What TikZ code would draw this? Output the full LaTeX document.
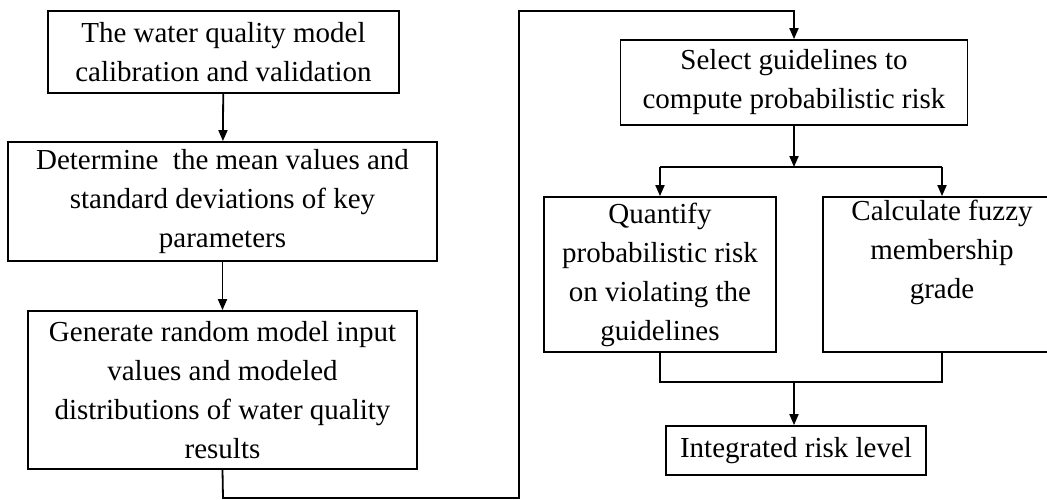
\documentclass[tikz,border=0pt]{standalone}
\usepackage{fontspec}
\setmainfont{Liberation Serif}
\usepackage{tikz}
\usetikzlibrary{arrows.meta}

\begin{document}
\begin{tikzpicture}[x=1pt,y=-1pt,line width=1.8pt,
  box/.style n args={2}{draw,rectangle,align=center,inner sep=0pt,minimum width=#1pt,minimum height=#2pt,font=\fontsize{29}{39}\selectfont},
  arr/.style={-{Triangle[length=11pt,width=9pt]}}]
\useasboundingbox (0,0) rectangle (1047,499);
% left column
\node[box={351}{82}] (calib) at (223.5,52) {The water quality model\\calibration and validation};
\node[box={429}{119}] (meanstd) at (222.5,201.5) {Determine\ \ the mean values and\\standard deviations of key\\parameters};
\node[box={389}{158}] (gener) at (222.5,390) {Generate random model input\\values and modeled\\distributions of water quality\\results};
% right column
\node[box={347}{85}] (select) at (794,82.5) {Select guidelines to\\compute probabilistic risk};
\node[box={232}{155}] (quant) at (660,274.5) {Quantify\\probabilistic risk\\on violating the\\guidelines};
\node[box={238}{155}] (fuzzy) at (942,274.5) {Calculate fuzzy\\membership\\grade\\\strut};
\node[box={260}{49}] (integ) at (796,450.5) {Integrated risk level};
% loop round from bottom left to top right
\coordinate (lb) at (223,498);
\coordinate (lr) at (519,498);
\coordinate (lt) at (519,11);
\coordinate (tt) at (794,11);
\coordinate (sp) at (794,167);
\coordinate (mg) at (794,382);
\draw[arr] (calib) -- (meanstd);
\draw[arr] (meanstd) -- (gener);
\draw[arr] (gener.south) -- (lb) -- (lr) -- (lt) -- (tt) -- (select.north);
\draw[arr] (select.south) -- (sp);
\draw (quant.north |- sp) -- (fuzzy.north |- sp);
\foreach \b in {quant,fuzzy} {
  \draw[arr] (\b.north |- sp) -- (\b.north);
}
\draw (quant.south) -- (quant.south |- mg) -- (fuzzy.south |- mg) -- (fuzzy.south);
\draw[arr] (mg) -- (mg |- integ.north);
\end{tikzpicture}
\end{document}
